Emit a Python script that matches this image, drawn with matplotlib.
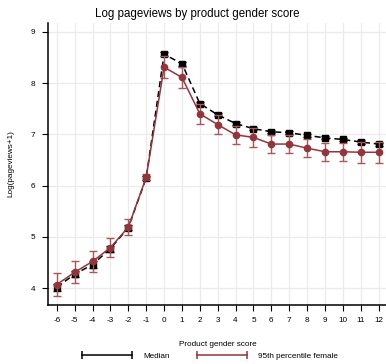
import matplotlib
matplotlib.use("Agg")
import matplotlib.pyplot as plt
from matplotlib.lines import Line2D

scores = list(range(-6, 13))
median_vals = [4.02, 4.27, 4.46, 4.77, 5.18, 6.15, 8.56, 8.38, 7.60, 7.38, 7.21, 7.11, 7.05, 7.03, 6.98, 6.93, 6.90, 6.85, 6.81]
median_err = [0.07, 0.06, 0.06, 0.06, 0.05, 0.04, 0.04, 0.04, 0.03, 0.03, 0.03, 0.03, 0.03, 0.03, 0.03, 0.03, 0.03, 0.03, 0.03]
female_vals = [4.07, 4.31, 4.52, 4.79, 5.19, 6.16, 8.31, 8.11, 7.40, 7.19, 6.99, 6.94, 6.81, 6.81, 6.73, 6.66, 6.66, 6.65, 6.65]
female_err = [0.22, 0.21, 0.20, 0.19, 0.15, 0.06, 0.21, 0.21, 0.19, 0.19, 0.18, 0.18, 0.18, 0.18, 0.18, 0.18, 0.18, 0.20, 0.20]
y_ticks = [4, 5, 6, 7, 8, 9]

plt.rcParams['font.family'] = ['Liberation Sans', 'DejaVu Sans']
plt.rcParams['axes.unicode_minus'] = False
red = '#93353b'
fs = 5.9

fig = plt.figure(figsize=(3.86, 3.64), dpi=100)
ax = fig.add_axes([0.124, 0.162, 0.88, 0.776])

ax.errorbar(scores, median_vals, yerr=median_err, color='black', ls='--', lw=1.1,
            marker='s', ms=4, capsize=3, elinewidth=1.0, capthick=1.0, dashes=(4, 2.5),
            label='Median', zorder=3)
ax.errorbar(scores, female_vals, yerr=female_err, color=red, ls='-', lw=1.1,
            marker='o', ms=4.5, capsize=3, elinewidth=1.0, capthick=1.0, ecolor='#a8585c',
            label='95th percentile female', zorder=4)

ax.set_xlim(-6.5, 12.5)
ax.set_ylim(3.67, 9.18)
ax.set_xticks(scores)
ax.set_yticks(y_ticks)
ax.grid(True, color='#ebebeb', lw=0.9)
ax.set_axisbelow(True)
for s in ['top', 'right']:
    ax.spines[s].set_visible(False)
ax.spines['left'].set_linewidth(1.1)
ax.spines['bottom'].set_linewidth(1.1)
ax.tick_params(axis='both', labelsize=fs, length=4, width=0.8, direction='out')
ax.tick_params(axis='y', pad=5)
ax.tick_params(axis='x', pad=4.5)

ax.set_xlabel('Product gender score', fontsize=fs, labelpad=12)
ax.set_ylabel('Log(pageviews+1)', fontsize=fs, labelpad=12)
fig.suptitle('Log pageviews by product gender score', fontsize=8.3, x=0.51, y=0.977)

h = [Line2D([0, 1], [0, 0], color='black', lw=1.1, marker='|', ms=6, markeredgewidth=1.1),
     Line2D([0, 1], [0, 0], color=red, lw=1.1, marker='|', ms=6, markeredgewidth=1.1)]
fig.legend(h, ['Median', '95th percentile female'], loc='center', bbox_to_anchor=(0.540, 0.021),
           ncol=2, frameon=False, fontsize=fs, handlelength=6.8, columnspacing=3.0,
           handletextpad=1.0, numpoints=2, borderpad=0.1)

fig.savefig('out.png', dpi=100)
